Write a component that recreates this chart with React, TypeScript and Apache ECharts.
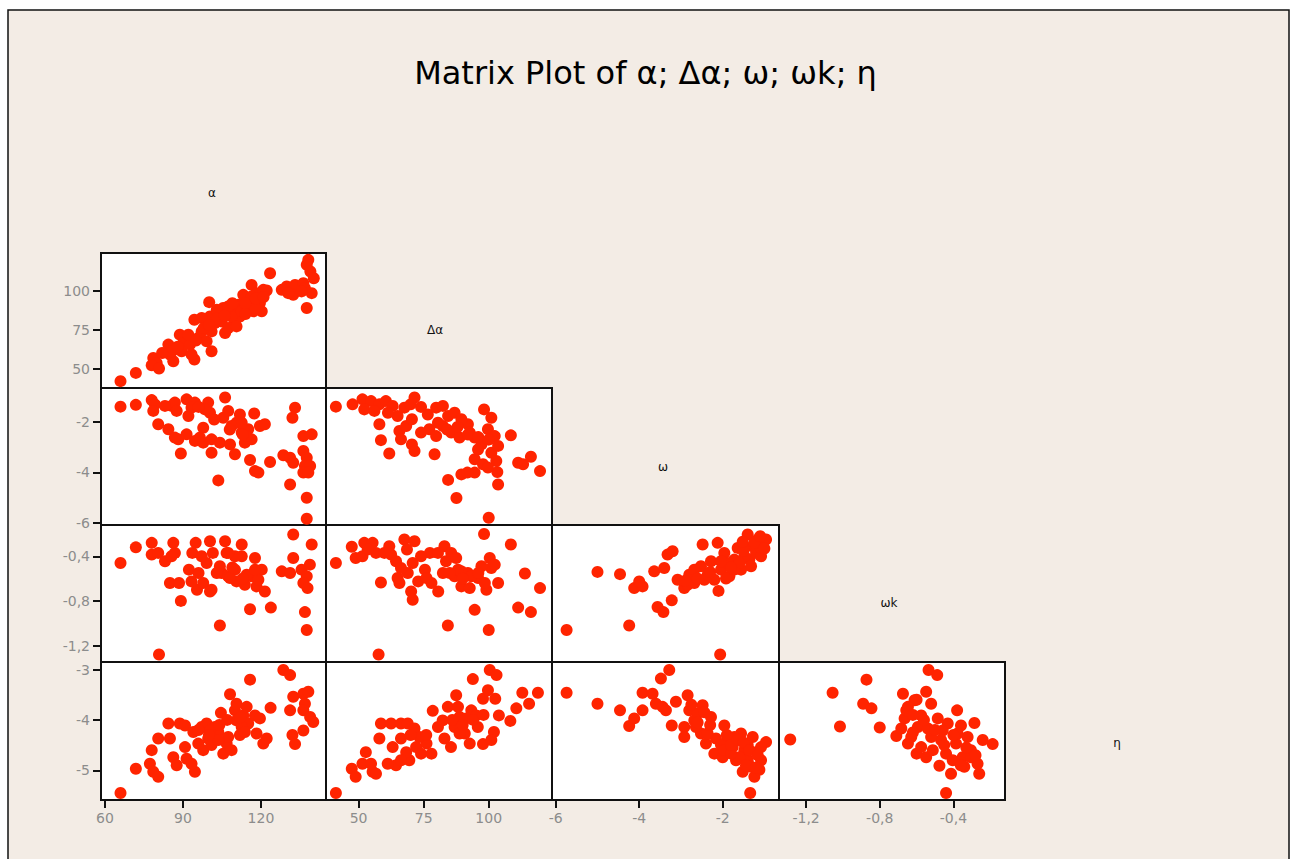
import React, { useEffect, useRef } from "react";
import * as echarts from "echarts";

const titleText = "Matrix Plot of α; Δα; ω; ωk; η";
const variableNames = ["α", "Δα", "ω", "ωk", "η"];

const alphaRange = [58.5, 145];
const dAlphaRange = [37.5, 124.3];
const omegaRange = [-6.09, -0.65];
const omegaKRange = [-1.347, -0.12];
const etaRange = [-5.59, -2.85];

const alphaTicks = [60, 90, 120];
const dAlphaTicks = [50, 75, 100];
const omegaTicks = [-6, -4, -2];
const omegaKTicks = [-1.2, -0.8, -0.4];
const etaTicks = [-5, -4, -3];

// (α, Δα)
const dAlphaVsAlpha = [
  [66.0, 41.9], [71.9, 47.2], [78.6, 56.8], [79.9, 53.6], [78.0, 52.1], [80.8, 50.0],
  [84.4, 65.4], [85.0, 59.0], [86.3, 54.7], [86.9, 62.2], [88.8, 71.8], [90.1, 66.5],
  [89.5, 61.1], [92.7, 65.4], [94.4, 55.8], [94.4, 81.4], [93.3, 59.0], [95.9, 69.7],
  [97.2, 73.9], [99.1, 67.5], [101.0, 61.1], [100.1, 92.7], [100.4, 83.5], [102.3, 79.3],
  [104.2, 85.7], [104.9, 80.3], [106.2, 72.9], [105.5, 88.9], [107.4, 84.6], [108.7, 87.8],
  [110.0, 79.3], [111.3, 91.0], [111.9, 83.5], [113.2, 97.4], [113.8, 88.9], [115.1, 93.2],
  [116.4, 103.8], [117.1, 86.8], [118.3, 98.5], [119.6, 92.1], [120.9, 100.6], [120.3, 86.8],
  [123.5, 111.3], [122.2, 100.2], [128.0, 100.6], [129.9, 102.8], [131.8, 99.6], [133.1, 103.8],
  [132.4, 97.4], [136.3, 104.9], [137.6, 88.9], [138.2, 119.9], [137.6, 116.7], [139.0, 112.4],
  [140.3, 108.1], [139.5, 98.5], [136.9, 101.7], [108.7, 83.5], [97.2, 82.5], [85.6, 61.1],
  [101.0, 73.9], [107.4, 76.1], [110.6, 77.1], [116.4, 96.4], [117.7, 88.9], [112.6, 86.8],
  [107.4, 89.9], [135.6, 99.6], [130.5, 98.5], [92.1, 71.8], [103.0, 87.8],
  [103.0, 82.0], [106.0, 84.0], [109.0, 92.0], [114.0, 92.0], [118.0, 95.0], [121.0, 96.0],
  [114.0, 85.0], [98.0, 76.0], [95.0, 68.0], [88.0, 64.0], [82.0, 60.0], [100.0, 78.0]
];

// (α, ω)
const omegaVsAlpha = [
  [66.0, -1.39], [71.9, -1.32], [78.0, -1.13], [79.2, -1.30], [78.6, -1.56], [80.5, -2.09],
  [84.4, -2.29], [85.6, -1.36], [86.9, -1.23], [87.6, -1.56], [88.2, -2.69], [89.2, -3.25],
  [91.4, -1.10], [92.1, -1.76], [91.4, -2.49], [94.6, -1.23], [94.6, -2.75], [97.8, -2.23],
  [97.8, -2.82], [99.7, -1.23], [100.4, -1.63], [101.0, -2.69], [101.0, -3.22], [103.6, -4.32],
  [104.2, -2.82], [106.2, -1.03], [105.5, -1.83], [108.1, -2.89], [110.0, -3.28], [107.4, -1.56],
  [110.6, -2.03], [111.9, -1.70], [112.6, -2.42], [113.8, -2.82], [115.1, -2.29], [116.4, -2.69],
  [115.8, -3.51], [117.4, -1.66], [117.7, -3.95], [119.0, -4.01], [119.6, -2.16], [121.5, -2.09],
  [123.5, -3.59], [128.6, -3.32], [131.2, -3.42], [132.4, -3.62], [131.2, -4.48], [133.1, -1.43],
  [132.1, -1.83], [136.3, -2.56], [139.5, -2.49], [136.3, -3.15], [137.6, -3.42], [136.9, -3.75],
  [138.9, -3.75], [136.3, -4.01], [137.6, -5.01], [137.6, -5.84], [83.1, -1.36], [93.3, -1.43],
  [112.6, -2.03], [114.5, -2.56], [108.7, -2.16], [98.5, -1.50], [86.9, -2.62], [96.5, -2.62],
  [138.2, -4.01], [102.0, -1.90], [108.0, -2.30], [113.0, -2.50], [96.0, -1.40]
];

// (Δα, ω)
const omegaVsDAlpha = [
  [41.3, -1.39], [47.7, -1.30], [51.5, -1.10], [54.8, -1.17], [58.0, -1.30], [60.5, -1.17],
  [63.1, -1.36], [58.0, -2.09], [58.6, -2.72], [61.8, -3.25], [65.0, -1.76], [65.7, -2.36],
  [67.6, -1.43], [68.3, -2.16], [71.5, -1.03], [70.5, -1.89], [70.5, -2.89], [71.5, -3.15],
  [79.2, -3.28], [76.6, -1.70], [77.2, -2.29], [79.8, -1.43], [82.4, -1.36], [79.8, -2.56],
  [82.4, -2.16], [84.4, -1.76], [86.9, -1.63], [85.6, -2.42], [88.8, -2.62], [92.0, -2.09],
  [94.6, -2.62], [92.7, -2.42], [97.2, -2.89], [94.6, -3.48], [97.8, -3.68], [98.2, -1.50],
  [101.0, -1.83], [99.7, -2.29], [102.3, -2.56], [101.0, -3.22], [102.9, -3.55], [103.3, -3.99],
  [103.6, -4.48], [108.5, -2.53], [111.3, -3.62], [113.2, -3.68], [116.2, -3.38], [119.7, -3.95],
  [94.6, -4.01], [89.5, -4.08], [91.8, -4.01], [84.4, -4.30], [87.6, -5.02], [100.0, -5.80],
  [52.2, -1.50], [56.1, -1.56], [61.3, -1.63], [74.0, -2.42], [80.5, -2.03], [89.5, -1.89],
  [95.9, -3.09], [99.7, -3.81], [66.3, -2.69], [103.6, -2.95],
  [70.0, -1.30], [74.0, -1.40], [88.0, -2.20], [92.0, -2.50], [96.0, -2.60], [100.0, -2.70],
  [84.0, -2.30]
];

// (α, ωk)
const omegaKVsAlpha = [
  [66.0, -0.46], [71.9, -0.32], [78.0, -0.28], [78.0, -0.385], [80.5, -0.37], [83.1, -0.445],
  [86.3, -0.28], [86.9, -0.37], [85.0, -0.64], [88.5, -0.64], [89.2, -0.80], [92.3, -0.52],
  [93.6, -0.37], [94.9, -0.28], [95.4, -0.70], [96.0, -0.55], [97.8, -0.64], [99.1, -0.46],
  [100.4, -0.265], [101.0, -0.70], [101.5, -0.37], [104.2, -1.02], [104.9, -0.55], [106.2, -0.265],
  [106.8, -0.37], [107.4, -0.58], [110.0, -0.52], [110.6, -0.625], [112.6, -0.295], [112.6, -0.40],
  [113.8, -0.655], [115.8, -0.875], [116.4, -0.58], [117.7, -0.415], [118.3, -0.67], [120.3, -0.52],
  [121.5, -0.715], [123.8, -0.86], [80.8, -1.28], [128.0, -0.535], [131.2, -0.55], [132.4, -0.205],
  [132.4, -0.415], [135.6, -0.52], [138.8, -0.475], [139.5, -0.295], [137.6, -0.58], [136.3, -0.64],
  [137.9, -0.685], [136.9, -0.90], [137.6, -1.06], [85.6, -0.40], [97.2, -0.40], [110.0, -0.40],
  [104.2, -0.49], [108.1, -0.595], [119.0, -0.61], [93.3, -0.625], [100.4, -0.715], [114.5, -0.565],
  [117.7, -0.52], [107.4, -0.37], [103.0, -0.55], [109.0, -0.50], [113.0, -0.60]
];

// (Δα, ωk)
const omegaKVsDAlpha = [
  [41.3, -0.46], [47.4, -0.315], [48.9, -0.415], [52.2, -0.28], [51.5, -0.40], [55.4, -0.28],
  [56.7, -0.37], [58.6, -0.635], [61.8, -0.31], [62.5, -0.385], [64.4, -0.445], [65.7, -0.64],
  [67.6, -0.25], [71.5, -0.265], [68.6, -0.34], [70.8, -0.46], [68.9, -0.55], [70.2, -0.715],
  [70.8, -0.79], [72.9, -0.625], [75.5, -0.52], [77.4, -0.37], [78.0, -0.64], [80.6, -0.715],
  [83.0, -0.31], [83.6, -0.445], [84.3, -1.02], [85.6, -0.37], [87.5, -0.415], [86.9, -0.58],
  [89.5, -0.67], [92.0, -0.55], [92.7, -0.685], [94.6, -0.88], [98.2, -0.20], [95.9, -0.595],
  [99.1, -0.70], [100.4, -0.415], [101.0, -0.505], [103.6, -0.64], [100.0, -1.06], [108.5, -0.295],
  [111.3, -0.86], [113.9, -0.555], [116.2, -0.90], [119.7, -0.685], [57.7, -1.28], [53.5, -0.34],
  [59.9, -0.37], [74.0, -0.40], [80.5, -0.37], [89.5, -0.535], [97.2, -0.49], [102.3, -0.475],
  [93.3, -0.58], [82.4, -0.55], [66.3, -0.505], [65.0, -0.595], [88.2, -0.52], [98.5, -0.64],
  [76.1, -0.595], [85.0, -0.55], [90.0, -0.60], [96.0, -0.55]
];

// (ω, ωk)
const omegaKVsOmega = [
  [-5.74, -1.06], [-5.0, -0.54], [-4.46, -0.56], [-4.24, -1.02], [-4.12, -0.685], [-3.92, -0.67],
  [-4.0, -0.625], [-3.64, -0.535], [-3.56, -0.855], [-3.42, -0.90], [-3.32, -0.385], [-3.2, -0.355],
  [-3.4, -0.505], [-3.22, -0.795], [-3.08, -0.61], [-2.92, -0.685], [-2.8, -0.565], [-2.68, -0.64],
  [-2.48, -0.295], [-2.52, -0.49], [-2.44, -0.61], [-2.28, -0.445], [-2.12, -0.28], [-2.1, -0.71],
  [-2.04, -0.52], [-1.96, -0.37], [-1.84, -0.58], [-1.72, -0.43], [-1.64, -0.325], [-1.56, -0.52],
  [-1.4, -0.205], [-1.36, -0.43], [-1.28, -0.31], [-1.2, -0.37], [-1.08, -0.40], [-0.96, -0.25],
  [-1.16, -0.25], [-2.06, -1.28], [-2.68, -0.52], [-2.2, -0.61], [-1.72, -0.52], [-1.48, -0.40],
  [-1.32, -0.49], [-2.36, -0.565], [-2.84, -0.655], [-1.88, -0.46], [-1.08, -0.325], [-1.6, -0.46],
  [-2.04, -0.445], [-1.5, -0.35], [-1.24, -0.28], [-1.0, -0.33], [-1.8, -0.50], [-1.92, -0.60],
  [-2.3, -0.54], [-2.6, -0.60], [-2.9, -0.62], [-1.52, -0.27], [-1.1, -0.22]
];

// (α, η)
const etaVsAlpha = [
  [66.0, -5.45], [71.9, -4.97], [78.0, -4.60], [77.3, -4.87], [78.6, -5.03], [80.5, -5.13],
  [80.5, -4.37], [84.4, -4.07], [85.0, -4.37], [86.3, -4.74], [87.6, -4.90], [88.8, -4.07],
  [90.8, -4.11], [90.8, -4.54], [91.4, -4.77], [94.6, -5.03], [94.0, -4.24], [93.3, -4.87],
  [97.2, -4.14], [97.8, -4.60], [99.1, -4.07], [99.7, -4.37], [101.0, -4.50], [102.3, -4.14],
  [103.6, -4.24], [104.6, -3.86], [105.5, -4.67], [106.8, -4.47], [108.1, -3.49], [108.7, -4.60],
  [110.0, -3.81], [110.6, -4.01], [111.9, -4.30], [113.2, -3.91], [114.5, -3.74], [115.1, -4.07],
  [115.8, -3.20], [117.7, -3.91], [118.3, -4.27], [119.6, -3.97], [120.9, -4.47], [122.2, -4.37],
  [123.7, -3.76], [128.6, -3.01], [131.2, -3.11], [131.2, -3.81], [132.4, -3.54], [132.1, -4.30],
  [133.1, -4.48], [136.3, -3.48], [138.2, -3.44], [136.9, -3.68], [136.3, -3.81], [138.9, -3.94],
  [140.1, -4.04], [136.3, -4.21], [100.4, -4.21], [107.4, -4.34], [112.6, -4.14], [95.9, -4.47],
  [110.6, -3.68], [103.6, -4.40], [113.8, -4.24], [100.0, -4.30], [104.0, -4.10], [107.0, -4.00],
  [112.0, -3.95], [96.0, -4.20]
];

// (Δα, η)
const etaVsDAlpha = [
  [41.3, -5.45], [47.4, -4.97], [48.9, -5.13], [52.8, -4.64], [51.5, -4.87], [55.4, -5.03],
  [56.7, -5.07], [58.0, -4.37], [58.6, -4.07], [62.5, -4.07], [63.1, -4.54], [64.4, -4.90],
  [66.3, -4.37], [66.3, -4.07], [68.9, -4.07], [69.5, -4.80], [68.3, -4.64], [71.5, -4.17],
  [72.1, -4.54], [74.0, -4.67], [76.1, -4.47], [78.0, -4.67], [78.5, -3.82], [80.5, -4.14],
  [83.0, -4.37], [84.3, -3.74], [85.5, -4.54], [87.5, -3.51], [86.9, -4.14], [88.8, -3.94],
  [90.8, -4.27], [91.3, -3.97], [92.7, -4.47], [93.3, -3.81], [93.9, -3.19], [95.8, -4.14],
  [97.8, -4.48], [97.8, -3.58], [99.7, -3.41], [100.4, -3.01], [103.0, -3.11], [102.5, -3.58],
  [102.0, -4.24], [103.9, -3.91], [108.3, -4.02], [110.6, -3.77], [112.9, -3.46], [115.5, -3.68],
  [118.9, -3.46], [101.0, -4.40], [82.3, -4.01], [73.4, -4.34], [61.2, -4.87], [54.8, -4.87],
  [88.8, -4.27], [95.2, -3.91], [66.3, -4.80], [88.2, -3.74], [86.0, -4.00], [90.0, -4.10],
  [94.0, -4.00], [98.0, -3.90], [76.0, -4.30], [70.0, -4.30]
];

// (ω, η)
const etaVsOmega = [
  [-5.74, -3.46], [-5.0, -3.68], [-4.46, -3.81], [-4.24, -4.12], [-4.12, -3.97], [-3.92, -3.81],
  [-3.92, -3.46], [-3.48, -3.18], [-3.28, -3.01], [-3.68, -3.48], [-3.6, -3.68], [-3.44, -3.74],
  [-3.36, -3.81], [-3.22, -4.11], [-3.12, -3.64], [-2.84, -3.51], [-2.8, -3.81], [-2.92, -4.14],
  [-2.92, -4.34], [-2.68, -4.01], [-2.48, -3.71], [-2.52, -4.27], [-2.4, -4.47], [-2.28, -3.94],
  [-2.16, -4.37], [-2.2, -4.67], [-1.96, -4.11], [-2.0, -4.74], [-1.88, -4.40], [-1.76, -4.54],
  [-1.68, -4.80], [-1.56, -4.27], [-1.48, -4.60], [-1.52, -5.03], [-1.4, -4.80], [-1.28, -4.34],
  [-1.2, -4.64], [-1.24, -5.13], [-1.08, -4.80], [-0.96, -4.44], [-1.34, -5.45], [-2.64, -4.14],
  [-2.04, -4.50], [-1.72, -4.34], [-1.4, -4.50], [-1.08, -4.54], [-1.6, -4.74], [-1.32, -4.93],
  [-1.96, -4.60], [-2.36, -4.27], [-2.6, -3.87], [-1.12, -4.99], [-1.8, -4.67],
  [-1.9, -4.30], [-1.8, -4.50], [-1.64, -4.40], [-1.5, -4.45], [-1.36, -4.60], [-1.16, -4.70],
  [-1.44, -4.90], [-1.2, -4.95], [-2.3, -4.10], [-2.6, -4.05], [-2.75, -3.70], [-2.44, -3.85]
];

// (ωk, η)
const etaVsOmegaK = [
  [-1.286, -4.39], [-1.056, -3.46], [-1.016, -4.13], [-0.872, -3.20], [-0.89, -3.68], [-0.845, -3.77],
  [-0.80, -4.15], [-0.71, -4.32], [-0.674, -3.48], [-0.647, -3.74], [-0.665, -3.97], [-0.647, -4.47],
  [-0.683, -4.17], [-0.611, -3.61], [-0.593, -4.14], [-0.60, -4.67], [-0.548, -3.44], [-0.535, -3.01],
  [-0.488, -3.11], [-0.521, -3.68], [-0.539, -4.17], [-0.548, -4.74], [-0.476, -4.91], [-0.485, -3.97],
  [-0.467, -4.40], [-0.431, -4.07], [-0.44, -4.67], [-0.413, -5.07], [-0.44, -5.45], [-0.38, -3.81],
  [-0.386, -4.47], [-0.359, -4.11], [-0.35, -4.74], [-0.323, -4.34], [-0.305, -4.60], [-0.286, -4.06],
  [-0.26, -5.07], [-0.269, -4.87], [-0.241, -4.40], [-0.187, -4.48], [-0.656, -3.81], [-0.629, -4.34],
  [-0.575, -4.54], [-0.512, -4.60], [-0.404, -4.80], [-0.341, -4.93], [-0.305, -4.74], [-0.521, -4.34],
  [-0.458, -4.21], [-0.377, -4.27], [-0.575, -3.91], [-0.62, -3.90], [-0.60, -3.60], [-0.56, -4.00],
  [-0.50, -4.20], [-0.45, -4.50], [-0.40, -4.30], [-0.33, -4.55], [-0.62, -4.25], [-0.36, -4.90],
  [-0.28, -4.70]
];

const varRanges = [alphaRange, dAlphaRange, omegaRange, omegaKRange, etaRange];
const varTicks = [alphaTicks, dAlphaTicks, omegaTicks, omegaKTicks, etaTicks];

// row = y variable index (1..4), col = x variable index (0..3)
const panels = [
  { row: 1, col: 0, data: dAlphaVsAlpha },
  { row: 2, col: 0, data: omegaVsAlpha },
  { row: 2, col: 1, data: omegaVsDAlpha },
  { row: 3, col: 0, data: omegaKVsAlpha },
  { row: 3, col: 1, data: omegaKVsDAlpha },
  { row: 3, col: 2, data: omegaKVsOmega },
  { row: 4, col: 0, data: etaVsAlpha },
  { row: 4, col: 1, data: etaVsDAlpha },
  { row: 4, col: 2, data: etaVsOmega },
  { row: 4, col: 3, data: etaVsOmegaK },
];

// layout (px)
const colLeft = [101, 326, 552, 779, 1005];
const colWidth = [225, 226, 227, 226, 226];
const rowTop = [117, 253, 388, 525, 662];
const rowHeight = [136, 135, 137, 137, 138];
const labelPos = [
  [212, 193], [435, 330], [663, 467], [889, 603], [1117, 743]
];

const POINT_COLOR = "#ff2400";
const TICK_COLOR = "#8c8c8c";
const FONT = "DejaVu Sans";

const fmt = (v: number) => String(v).replace(".", ",");

export default function App() {
  const ref = useRef<HTMLDivElement>(null);
  useEffect(() => {
    if (!ref.current) return;
    const chart = echarts.init(ref.current, undefined, { renderer: "svg" });
    const grids: any[] = [];
    const xAxes: any[] = [];
    const yAxes: any[] = [];
    const series: any[] = [];
    panels.forEach((p, i) => {
      const isBottom = p.row === 4;
      const isLeft = p.col === 0;
      grids.push({
        left: colLeft[p.col],
        top: rowTop[p.row],
        width: colWidth[p.col],
        height: rowHeight[p.row],
        show: true,
        backgroundColor: "#ffffff",
        borderColor: "#111",
        borderWidth: 2,
        containLabel: false,
      });
      const xr = varRanges[p.col];
      const yr = varRanges[p.row];
      xAxes.push({
        type: "value",
        gridIndex: i,
        min: xr[0],
        max: xr[1],
        splitLine: { show: false },
        axisLine: { show: isBottom, onZero: false, lineStyle: { color: "#111", width: 2 } },
        axisTick: {
          show: isBottom,
          inside: false,
          length: 8,
          customValues: varTicks[p.col],
          lineStyle: { color: "#111", width: 2 },
        },
        axisLabel: {
          show: isBottom,
          customValues: varTicks[p.col],
          formatter: fmt,
          color: TICK_COLOR,
          fontSize: 14,
          fontFamily: FONT,
          margin: 11,
        },
      });
      yAxes.push({
        type: "value",
        gridIndex: i,
        min: yr[0],
        max: yr[1],
        splitLine: { show: false },
        axisLine: { show: isLeft, onZero: false, lineStyle: { color: "#111", width: 2 } },
        axisTick: {
          show: isLeft,
          inside: false,
          length: 8,
          customValues: varTicks[p.row],
          lineStyle: { color: "#111", width: 2 },
        },
        axisLabel: {
          show: isLeft,
          customValues: varTicks[p.row],
          formatter: fmt,
          color: TICK_COLOR,
          fontSize: 14,
          fontFamily: FONT,
          margin: 11,
        },
      });
      series.push({
        type: "scatter",
        xAxisIndex: i,
        yAxisIndex: i,
        data: p.data,
        symbol: "circle",
        symbolSize: 12,
        clip: false,
        itemStyle: { color: POINT_COLOR, opacity: 1 },
        emphasis: { disabled: true },
      });
    });

    const graphics: any[] = [
      {
        type: "rect",
        z: -10,
        silent: true,
        shape: { x: 8, y: 10, width: 1281, height: 870 },
        style: { fill: "#f3ece5", stroke: "#111", lineWidth: 1.5 },
      },
      ...variableNames.map((name, k) => ({
        type: "text",
        x: labelPos[k][0],
        y: labelPos[k][1],
        style: {
          text: name,
          fill: "#111",
          font: `12px '${FONT}'`,
          textAlign: "center",
          textVerticalAlign: "middle",
        },
      })),
    ];

    chart.setOption({
      animation: false,
      backgroundColor: "#ffffff",
      title: {
        text: titleText,
        left: "center",
        top: 52,
        textStyle: { fontSize: 32, fontWeight: "normal", color: "#000", fontFamily: FONT },
      },
      grid: grids,
      xAxis: xAxes,
      yAxis: yAxes,
      series,
      graphic: graphics,
    });
    return () => chart.dispose();
  }, []);
  return (
    <div
      ref={ref}
      style={{ position: "fixed", left: 0, top: 0, width: 1291, height: 859 }}
    />
  );
}
